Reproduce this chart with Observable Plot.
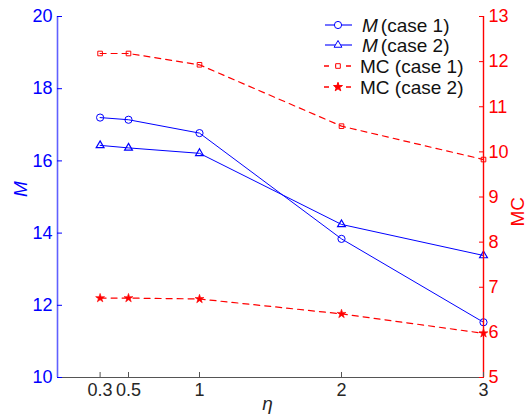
<!DOCTYPE html>
<html>
<head>
<meta charset="utf-8">
<script src="https://cdn.jsdelivr.net/npm/d3@7"></script>
<script src="https://cdn.jsdelivr.net/npm/@observablehq/plot@0.6"></script>
<style>
  body { margin: 0; background: #fff; }
  #wrap { position: relative; width: 531px; height: 419px; }
  #legend { position: absolute; left: 0; top: 0; pointer-events: none; }
  svg { font-family: "Liberation Sans", Arial, sans-serif; }
</style>
</head>
<body>
<div id="wrap"></div>
<script>
// ---- data ----
const eta = [0.3, 0.5, 1, 2, 3];
const etaTicks = [0.3, 0.5, 1, 2, 3];
const mCase1 = [17.2, 17.14, 16.77, 13.84, 11.53];
const mCase2 = [16.43, 16.36, 16.21, 14.24, 13.38];
const mcCase1 = [12.18, 12.18, 11.93, 10.57, 9.83];
const mcCase2 = [6.76, 6.76, 6.74, 6.41, 5.98];
const leftTicks = [10, 12, 14, 16, 18, 20];
const rightTicks = [5, 6, 7, 8, 9, 10, 11, 12, 13];
const seriesNames = ["(case 1)", "(case 2)", "MC (case 1)", "MC (case 2)"];

const leftDomain = [10, 20];
const rightDomain = [5, 13];
const xDomain = [0, 3];
// map right-axis (MC) values into left-axis units
const toLeft = v => leftDomain[0] + (v - rightDomain[0]) * (leftDomain[1] - leftDomain[0]) / (rightDomain[1] - rightDomain[0]);
const toRight = v => rightDomain[0] + (v - leftDomain[0]) * (rightDomain[1] - rightDomain[0]) / (leftDomain[1] - leftDomain[0]);

const rows = (ys, conv = d => d) => eta.map((x, i) => ({x, y: conv(ys[i])}));
const m1 = rows(mCase1), m2 = rows(mCase2);
const c1 = rows(mcCase1, toLeft), c2 = rows(mcCase2, toLeft);

const BLUE = "#0000ff", RED = "#ff0000", GRAY = "#555555";
const FS = 18;
const R = {circle: 3.6, triangle: 2.9, square: 2.6, star: 2.8};

const chart = Plot.plot({
  width: 531,
  height: 419,
  marginLeft: 57,
  marginRight: 48,
  marginTop: 16,
  marginBottom: 42,
  style: {fontFamily: '"Liberation Sans", Arial, sans-serif', fontSize: FS + "px", background: "#fff"},
  x: {domain: xDomain, axis: null},
  y: {domain: leftDomain, axis: null},
  marks: [
    // lines
    Plot.line(m1, {x: "x", y: "y", stroke: BLUE, strokeWidth: 1}),
    Plot.line(m2, {x: "x", y: "y", stroke: BLUE, strokeWidth: 1}),
    Plot.line(c1, {x: "x", y: "y", stroke: RED, strokeWidth: 1.2, strokeDasharray: "6,5"}),
    Plot.line(c2, {x: "x", y: "y", stroke: RED, strokeWidth: 1.2, strokeDasharray: "6,5"}),
    // markers
    Plot.dot(m1, {x: "x", y: "y", symbol: "circle", r: R.circle, stroke: BLUE, fill: "none", strokeWidth: 1}),
    Plot.dot(m2, {x: "x", y: "y", symbol: "triangle", r: R.triangle, stroke: BLUE, fill: "none", strokeWidth: 1.2}),
    Plot.dot(c1, {x: "x", y: "y", symbol: "square", r: R.square, stroke: RED, fill: "none", strokeWidth: 1}),
    Plot.dot(c2, {x: "x", y: "y", symbol: "star", r: R.star, stroke: RED, fill: RED, strokeWidth: 0.6}),
    // axis lines
    Plot.ruleX([xDomain[0]], {stroke: "#6060ff", strokeWidth: 1.6}),
    Plot.ruleX([xDomain[1]], {stroke: RED, strokeWidth: 1.4}),
    Plot.ruleY([leftDomain[0]], {x1: xDomain[0], x2: xDomain[1], stroke: GRAY, strokeWidth: 1.2}),
    // left axis
    Plot.axisY(leftTicks, {anchor: "left", label: null, tickSize: 0, tickPadding: 5, color: BLUE, fontSize: FS}),
    Plot.axisY(leftTicks, {anchor: "left", label: null, tickSize: -5, tickFormat: () => "", stroke: BLUE}),
    // right axis
    Plot.axisY(rightTicks.map(toLeft), {anchor: "right", label: null, tickSize: 0, tickPadding: 5, color: RED, fontSize: FS, tickFormat: d => String(Math.round(toRight(d)))}),
    Plot.axisY(rightTicks.map(toLeft), {anchor: "right", label: null, tickSize: -5, tickFormat: () => "", stroke: RED}),
    // bottom axis
    Plot.axisX(etaTicks, {anchor: "bottom", label: null, tickSize: 0, tickPadding: 6, color: "#262626", fontSize: FS, tickFormat: d => String(d)}),
    Plot.axisX(etaTicks, {anchor: "bottom", label: null, tickSize: -5, tickFormat: () => "", stroke: GRAY}),
    // axis titles
    Plot.text(["M"], {frameAnchor: "left", text: d => d, dx: -37, rotate: -90, fill: BLUE, fontSize: FS + 1, fontStyle: "italic"}),
    Plot.text(["MC"], {frameAnchor: "right", text: d => d, dx: 34, rotate: -90, fill: RED, fontSize: FS + 1}),
    Plot.text(["η"], {frameAnchor: "bottom", text: d => d, dx: -3, dy: 32, fill: "#262626", fontSize: FS + 1, fontStyle: "italic"})
  ]
});

const wrap = document.getElementById("wrap");
wrap.appendChild(chart);

// ---- legend ----
const legendItems = [
  {italic: "M", label: seriesNames[0], stroke: BLUE, dash: null, symbol: d3.symbolCircle, fill: "none", r: R.circle},
  {italic: "M", label: seriesNames[1], stroke: BLUE, dash: null, symbol: d3.symbolTriangle, fill: "none", r: R.triangle},
  {italic: "", label: seriesNames[2], stroke: RED, dash: "6,5", symbol: d3.symbolSquare, fill: "none", r: R.square},
  {italic: "", label: seriesNames[3], stroke: RED, dash: "6,5", symbol: d3.symbolStar, fill: RED, r: R.star}
];
const LFS = 19;
const lg = d3.select(wrap).append("svg").attr("id", "legend").attr("width", 531).attr("height", 110)
  .style("font-family", '"Liberation Sans", Arial, sans-serif').style("font-size", LFS + "px");
const rowY = [25, 45, 66, 87];
legendItems.forEach((it, i) => {
  const g = lg.append("g").attr("transform", `translate(0,${rowY[i]})`);
  const line = g.append("line").attr("x1", 325).attr("x2", 352).attr("y1", 0).attr("y2", 0)
    .attr("stroke", it.stroke === BLUE ? "#5050ff" : it.stroke).attr("stroke-width", it.stroke === BLUE ? 1.6 : 1.4);
  if (it.dash) line.attr("stroke-dasharray", "5,6").attr("x1", 324);
  g.append("path").attr("transform", "translate(338,0)")
    .attr("d", d3.symbol(it.symbol, Math.PI * it.r * it.r)())
    .attr("stroke", it.stroke).attr("fill", it.fill === "none" ? "#fff" : it.fill).attr("stroke-width", 1);
  const t = g.append("text").attr("x", it.italic ? 362 : 360).attr("y", 0).attr("dy", "0.35em").attr("fill", "#111");
  if (it.italic) {
    t.append("tspan").attr("font-style", "italic").text(it.italic);
    t.append("tspan").attr("dx", 3).text(it.label);
  } else {
    t.text(it.label);
  }
});
</script>
</body>
</html>
